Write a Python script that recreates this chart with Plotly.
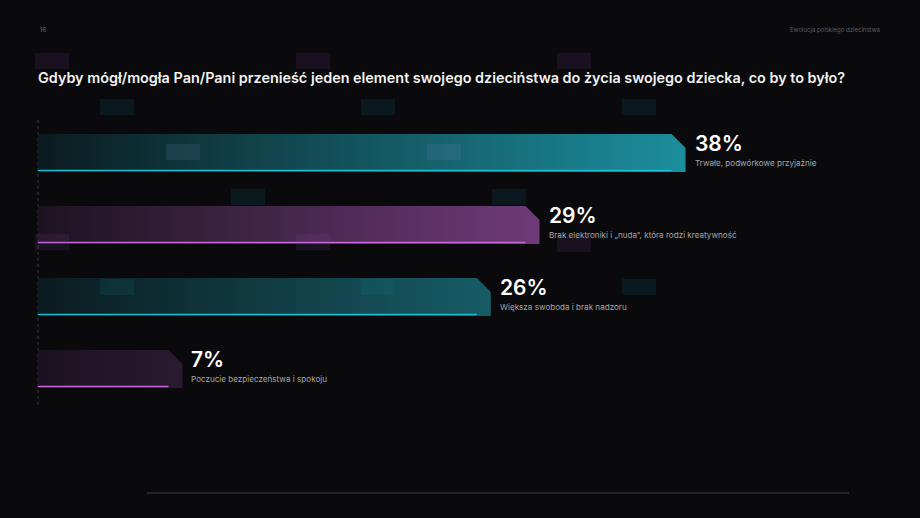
import plotly.graph_objects as go

# === Data ===
values = [38, 29, 26, 7]
labels = [
    "Trwałe, podwórkowe przyjaźnie",
    "Brak elektroniki i „nuda”, która rodzi kreatywność",
    "Większa swoboda i brak nadzoru",
    "Poczucie bezpieczeństwa i spokoju",
]
title = "Gdyby mógł/mogła Pan/Pani przenieść jeden element swojego dzieciństwa do życia swojego dziecka, co by to było?"
page_no = "16"
section = "Ewolucja polskiego dzieciństwa"

# --- style ---
W, H = 920, 518
BG = "#0a0a0c"
FONT = "Inter"
TEAL = dict(start="#0b1b1f", end="#1c8e9e", line="#1cbcd0")
PURPLE = dict(start="#1d1320", end="#6f3a79", line="#c865da")
bar_styles = [
    TEAL,
    PURPLE,
    dict(TEAL, end="#175c66"),
    dict(PURPLE, start="#1a1220", end="#2b1a31"),
]

base = -1.9          # bars start slightly left of zero
px_per_unit = 16.23  # horizontal scale
left_px = 38
row_px, first_px = 72, 153
half_h = 19 / row_px
cham_x, cham_y = 14 / px_per_unit, 14 / row_px
line_off = 17.5 / row_px

x_range = [base - left_px / px_per_unit, base + (W - left_px) / px_per_unit]
y_range = [(H - first_px) / row_px, -first_px / row_px]

fig = go.Figure()

for i, (v, st) in enumerate(zip(values, bar_styles)):
    top, bot = i - half_h, i + half_h
    fig.add_trace(go.Scatter(
        x=[base, v - cham_x, v, v, base, base],
        y=[top, top, top + cham_y, bot, bot, top],
        mode="lines", fill="toself", line=dict(width=0),
        fillgradient=dict(type="horizontal", start=base, stop=v,
                          colorscale=[[0, st["start"]], [1, st["end"]]]),
        hoverinfo="skip", showlegend=False,
    ))
    fig.add_trace(go.Scatter(
        x=[base, v - cham_x], y=[i + line_off, i + line_off],
        mode="lines", line=dict(color=st["line"], width=1.5),
        hoverinfo="skip", showlegend=False,
    ))
    fig.add_annotation(x=v, y=i - 0.13, text=f"{v}%", xanchor="left", yanchor="middle",
                       xshift=7, showarrow=False,
                       font=dict(family=FONT, size=21, color="white", weight=600))
    fig.add_annotation(x=v, y=i + 0.135, text=labels[i], xanchor="left", yanchor="middle",
                       xshift=7, showarrow=False,
                       font=dict(family=FONT, size=8.1, color="#a6a6a8"))

# dotted baseline
fig.add_shape(type="line", x0=base, x1=base, y0=-0.46, y1=len(values) - 0.46,
              line=dict(color="#3a3a3e", width=1, dash="dot"), layer="below")


def px(x, y):
    return x / W, 1 - y / H


# faint decorative blocks
deco = [
    (35, 53, "p"), (296, 53, "p"), (557, 53, "p"),
    (100, 99, "t"), (361, 99, "t"), (622, 99, "t"),
    (166, 144, "s"), (427, 144, "s"),
    (231, 189, "t"), (492, 189, "t"),
    (35, 234, "p"), (296, 234, "p"), (557, 236, "p"),
    (100, 279, "t"), (361, 279, "t"), (622, 279, "t"),
]
deco_col = {"p": "rgba(143,77,170,0.12)", "t": "rgba(20,140,160,0.12)",
            "s": "rgba(130,145,205,0.13)"}
for dx, dy, c in deco:
    x0, y0 = px(dx, dy + 16)
    x1, y1 = px(dx + 34, dy)
    fig.add_shape(type="rect", xref="paper", yref="paper", x0=x0, x1=x1, y0=y0, y1=y1,
                  fillcolor=deco_col[c], line=dict(width=0), layer="above")

# bottom rule
x0, y0 = px(147, 493)
x1, _ = px(849, 493)
fig.add_shape(type="line", xref="paper", yref="paper", x0=x0, x1=x1, y0=y0, y1=y0,
              line=dict(color="#2c2c30", width=1.5))

# header texts
hx, hy = px(38, 30)
fig.add_annotation(xref="paper", yref="paper", x=hx, y=hy, text=page_no, showarrow=False,
                   xanchor="left", yanchor="middle", font=dict(family=FONT, size=6, color="#6a6a6e"))
hx, hy = px(882, 30)
fig.add_annotation(xref="paper", yref="paper", x=hx, y=hy, text=section, showarrow=False,
                   xanchor="right", yanchor="middle", font=dict(family=FONT, size=6, color="#5e5e62"))
tx, ty = px(38, 77)
fig.add_annotation(xref="paper", yref="paper", x=tx, y=ty, text=title, showarrow=False,
                   xanchor="left", yanchor="middle", xshift=-2,
                   font=dict(family=FONT, size=14.4, color="#f2f2f2", weight=600))

fig.update_layout(
    width=W, height=H,
    margin=dict(l=0, r=0, t=0, b=0),
    paper_bgcolor=BG, plot_bgcolor=BG,
    xaxis=dict(range=x_range, visible=False, fixedrange=True),
    yaxis=dict(range=y_range, visible=False, fixedrange=True),
    showlegend=False,
)

fig.write_html("out.html", config=dict(displayModeBar=False),
               post_script="document.body.style.margin='0';document.body.style.background='%s';" % BG)
